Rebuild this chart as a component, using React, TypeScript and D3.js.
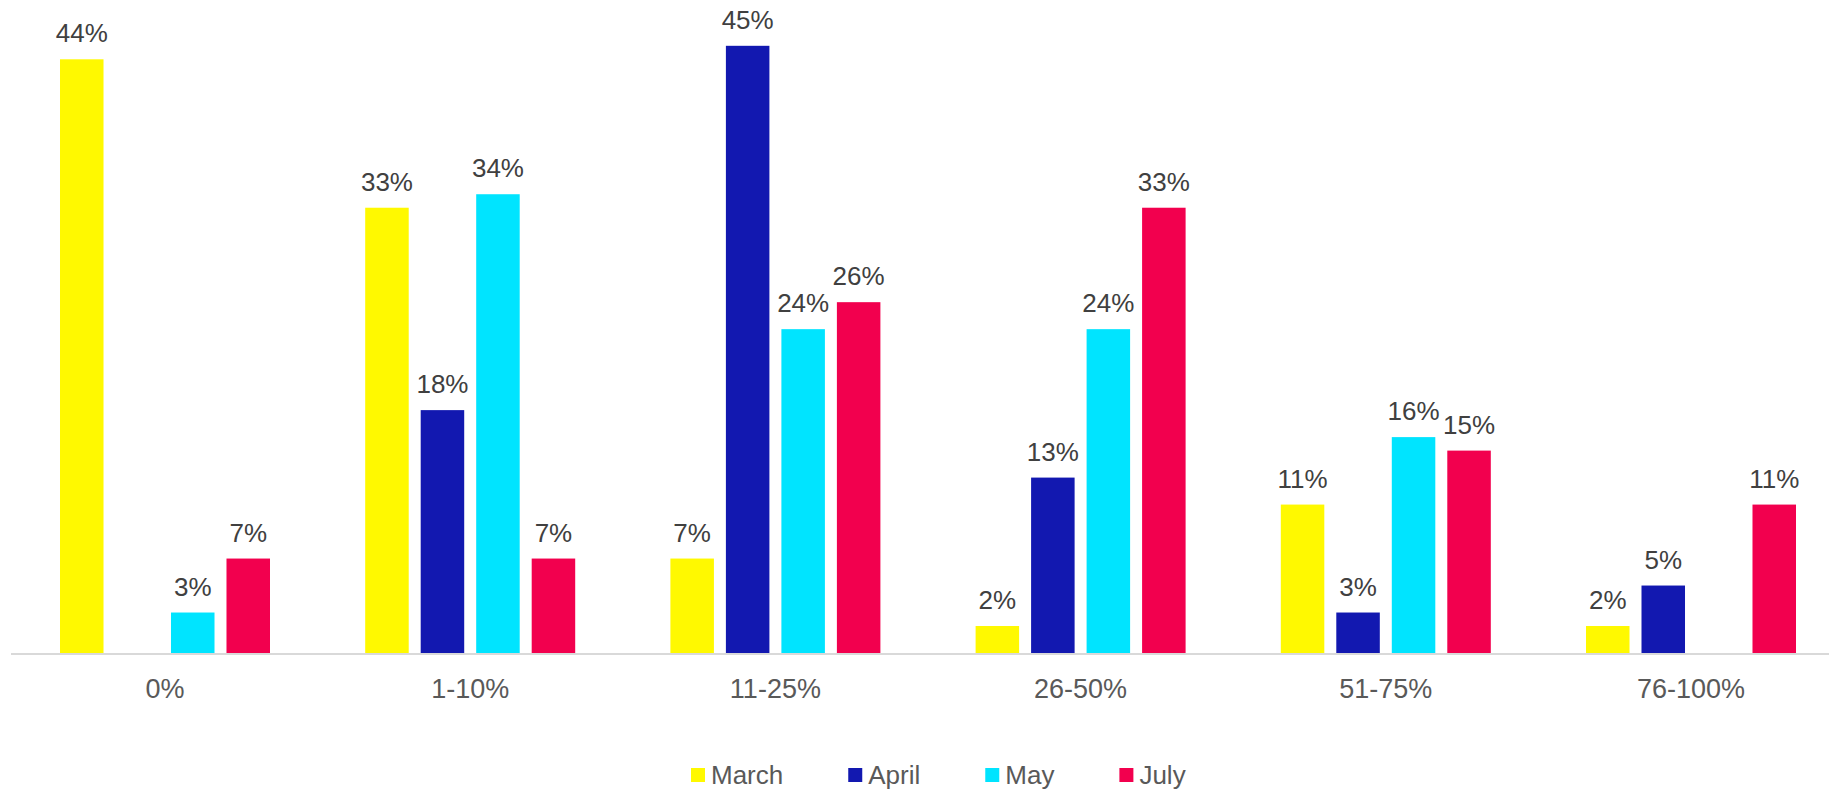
import React, { useRef, useEffect } from "react";
import * as d3 from "d3";

// Data
const categories = ["0%", "1-10%", "11-25%", "26-50%", "51-75%", "76-100%"];
const seriesNames = ["March", "April", "May", "July"];
const march = [44, 33, 7, 2, 11, 2];
const april = [0, 18, 45, 13, 3, 5];
const may = [3, 34, 24, 24, 16, 0];
const july = [7, 7, 26, 33, 15, 11];
const seriesValues = [march, april, may, july];
const colors = ["#FFF900", "#1218B0", "#00E4FF", "#F2004E"];

const width = 1829;
const height = 789;
const font = "'Liberation Sans', Arial, sans-serif";

function GroupedBars() {
  const svgRef = useRef<SVGSVGElement>(null);

  useEffect(() => {
    const svg = d3.select(svgRef.current);
    svg.selectAll("*").remove();

    const baseline = 653;

    const x0 = d3
      .scaleBand<string>()
      .domain(categories)
      .range([12.4, 12.4 + 6 * 305.2])
      .paddingInner(0)
      .paddingOuter(0);

    const x1 = d3
      .scaleBand<string>()
      .domain(seriesNames)
      .range([47.6, 257.6])
      .paddingInner(0.216)
      .paddingOuter(0);

    const y = d3.scaleLinear().domain([0, 44]).range([baseline, 59.3]);

    // flatten into bar records
    const rows = categories.flatMap((cat, ci) =>
      seriesNames.map((s, si) => ({
        cat,
        s,
        si,
        v: seriesValues[si][ci],
      }))
    );

    const bars = rows.filter((d) => d.v > 0);

    svg
      .append("g")
      .selectAll("rect")
      .data(bars)
      .enter()
      .append("rect")
      .attr("x", (d) => x0(d.cat)! + x1(d.s)!)
      .attr("y", (d) => y(d.v))
      .attr("width", x1.bandwidth())
      .attr("height", (d) => baseline - y(d.v))
      .style("fill", (d) => colors[d.si]);

    // value labels
    svg
      .append("g")
      .selectAll("text")
      .data(bars)
      .enter()
      .append("text")
      .attr("x", (d) => x0(d.cat)! + x1(d.s)! + x1.bandwidth() / 2)
      .attr("y", (d) => y(d.v) - 17)
      .attr("text-anchor", "middle")
      .style("font-family", font)
      .style("font-size", "26px")
      .style("fill", "#404040")
      .text((d) => `${d.v}%`);

    // category axis line
    svg
      .append("line")
      .attr("x1", 11)
      .attr("x2", width)
      .attr("y1", baseline + 1)
      .attr("y2", baseline + 1)
      .style("stroke", "#D9D9D9")
      .style("stroke-width", 2);

    // category labels
    svg
      .append("g")
      .selectAll("text")
      .data(categories)
      .enter()
      .append("text")
      .attr("x", (d) => x0(d)! + x0.bandwidth() / 2)
      .attr("y", 698)
      .attr("text-anchor", "middle")
      .style("font-family", font)
      .style("font-size", "27px")
      .style("fill", "#595959")
      .text((d) => d);

    // legend
    const legend = svg.append("g");
    let lx = 691;
    seriesNames.forEach((name, i) => {
      legend
        .append("rect")
        .attr("x", lx)
        .attr("y", 768)
        .attr("width", 14)
        .attr("height", 14)
        .style("fill", colors[i]);
      const t = legend
        .append("text")
        .attr("x", lx + 20)
        .attr("y", 784)
        .style("font-family", font)
        .style("font-size", "26px")
        .style("fill", "#595959")
        .text(name);
      const tw = (t.node() as SVGTextElement).getComputedTextLength();
      lx += 20 + tw + 65;
    });
  }, []);

  return (
    <svg
      ref={svgRef}
      width={width}
      height={height}
      style={{ position: "absolute", left: 0, top: 0, background: "#fff" }}
    ></svg>
  );
}

export default function App() {
  return <GroupedBars />;
}
